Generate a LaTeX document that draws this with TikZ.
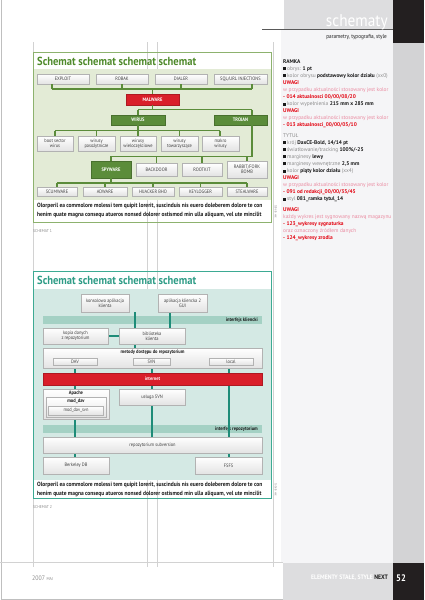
\documentclass[tikz,border=0pt]{standalone}
\usepackage{fontspec}
\setmainfont[FakeStretch=0.9]{PT Sans}
\newfontfamily\colfont{PT Sans}
\usetikzlibrary{calc}
\definecolor{gdark}{HTML}{5B8C3A}
\definecolor{gpanel}{HTML}{E3EBD6}
\definecolor{gframe}{HTML}{8DB26E}
\definecolor{gtitle}{HTML}{4F8A2B}
\definecolor{mred}{HTML}{D91F2A}
\definecolor{tframe}{HTML}{3DAA93}
\definecolor{tpanel}{HTML}{D4E9E4}
\definecolor{tbar}{HTML}{A4D1C4}
\definecolor{tline}{HTML}{1E8C78}
\definecolor{ttitle}{HTML}{2E9C86}
\definecolor{colbg}{HTML}{F5F5F7}
\definecolor{hdrgray}{HTML}{DDDDDF}
\definecolor{strip}{HTML}{D3D3D5}
\definecolor{blk}{HTML}{231F20}
\definecolor{rtxt}{HTML}{8C8C8C}
\definecolor{dk}{HTML}{1A1A1A}
\definecolor{rd}{HTML}{E30613}
\definecolor{pk}{HTML}{EA8AA0}
\newcommand\nbox[7]{\node[#6, minimum width={(#4-#2)*1pt}, minimum height={(#5-#3)*1pt}] (#1) at ({(#2+#4)/2},{(#3+#5)/2}) {#7};}
\newcommand\sqb{{\color{dk}\rule{3pt}{3pt}}\hspace{1pt}}
\newcommand\bd[1]{{\bfseries\color{dk}#1}}
\newcommand\uw{{\bfseries\color{rd}UWAGI}}
\newcommand\pkt[1]{{\color{pk}#1}}
\newcommand\rdt[1]{{\bfseries\color{rd}#1}}
\tikzset{
  gbox/.style={draw=gray!60, line width=0.4pt, top color=white, bottom color=gray!22, inner sep=0pt, align=center, text=black!75, font=\fontsize{4.9}{5.3}\selectfont},
  greenbox/.style={draw=gdark!80!black, line width=0.4pt, fill=gdark, inner sep=0pt, align=center, text=white, font=\bfseries\fontsize{5}{5.5}\selectfont},
  redbox/.style={draw=mred!80!black, line width=0.4pt, fill=mred, inner sep=0pt, align=center, text=white, font=\bfseries\fontsize{5}{5.5}\selectfont},
  tbarbox/.style={fill=tbar, inner sep=0pt},
  conn/.style={draw=gdark, line width=1.3pt},
  tconn/.style={draw=tline, line width=1.1pt},
  guide/.style={draw=gray!35, line width=0.4pt},
  captxt/.style={anchor=west, inner sep=0pt, text=dk, font=\bfseries\fontsize{6.1}{6.5}\selectfont},
  schlabel/.style={anchor=west, inner sep=0pt, text=rtxt, font=\fontsize{4.2}{4.5}\selectfont},
  sidelabel/.style={rotate=-90, inner sep=0pt, text=rtxt, font=\fontsize{3.2}{3.2}\selectfont},
  titletxt/.style={anchor=base west, inner sep=0pt, font=\bfseries\fontsize{11.7}{12}\selectfont},
  bartxt/.style={anchor=east, inner sep=0pt, text=dk, font=\bfseries\fontsize{5}{5.5}\selectfont},
  intxt/.style={anchor=center, inner sep=0pt, text=dk, font=\bfseries\fontsize{5}{5.5}\selectfont}
}
\begin{document}
\begin{tikzpicture}[x=1pt,y=-1pt]
\useasboundingbox (0,0) rectangle (424,600);
\fill[white] (0,0) rectangle (424,600);
% right column
\fill[colbg] (281,29) rectangle (393,563);
\fill[hdrgray] (284,0) rectangle (393,29);
\fill[blk] (393,0) rectangle (424,43);
\fill[strip] (393,43) rectangle (424,563);
\fill[hdrgray] (283,563) rectangle (393,600);
\fill[blk] (393,563) rectangle (424,600);
\draw[gray!70!black, line width=0.5pt] (262,29.5) -- (393,29.5);
\node[anchor=base east, inner sep=0pt, text=white, font=\fontsize{17}{17}\selectfont] (hdr) at (388,26) {schematy};
\node[anchor=base east, inner sep=0pt, text=dk, font=\fontsize{5.8}{6}\selectfont] (sub) at (387,38.5) {parametry, typografia, style};
\node[anchor=base west, inner sep=0pt, text=white, font=\bfseries\fontsize{9.5}{9.5}\selectfont] (pg) at (396,581) {52};
\node[anchor=base east, inner sep=0pt, font=\bfseries\fontsize{6.4}{6.5}\selectfont] (foot) at (388,579.5) {\color{white}ELEMENTY STAŁE, STYLE\ \color{dk}NEXT};
\node[anchor=base west, inner sep=0pt, text=rtxt, font=\fontsize{6.5}{6.5}\selectfont] (year) at (32,580) {2007 {\fontsize{4.3}{4.3}\selectfont MAJ}};
% page border and guides
\draw[gray!50, line width=0.6pt] (1,0) -- (1,599) -- (283,599);
\foreach \gx in {33,147,157,273} {\draw[guide] (\gx,42) -- (\gx,567);}
\draw[guide] (0,562) -- (283,562);

% ================= SCHEMAT 1 =================
\fill[gpanel] (33,69) rectangle (271,200);
\draw[gframe, line width=0.8pt] (33,52) rectangle (271,222);
\node[titletxt, text=gtitle] (t1) at (37,65.5) {Schemat schemat schemat schemat};
\nbox{exploit}{37}{74}{89}{84}{gbox}{EXPLOIT}
\nbox{robak}{96}{74}{148}{84}{gbox}{ROBAK}
\nbox{dialer}{155}{74}{207}{84}{gbox}{DIALER}
\nbox{sql}{214}{74}{267}{84}{gbox}{SQL/URL INJECTIONS}
\nbox{malware}{126}{94}{179}{105}{redbox}{MALWARE}
\nbox{wirus}{111}{115}{165}{125}{greenbox}{WIRUS}
\nbox{trojan}{214}{115}{267}{125}{greenbox}{TROJAN}
\nbox{boot}{37}{136}{73}{151}{gbox}{boot sector\\wirus}
\nbox{paso}{78}{136}{115}{151}{gbox}{wirusy\\pasożytnicze}
\nbox{wielo}{120}{136}{156}{151}{gbox}{wirusy\\wieloczęściowe}
\nbox{towa}{161}{136}{198}{151}{gbox}{wirusy\\towarzyszące}
\nbox{makro}{202}{136}{239}{151}{gbox}{makro\\wirusy}
\nbox{spyware}{91}{161}{131}{178}{greenbox}{SPYWARE}
\nbox{backdoor}{136}{163}{177}{176}{gbox}{BACKDOOR}
\nbox{rootkit}{182}{163}{222}{176}{gbox}{ROOTKIT}
\nbox{rabbit}{227}{161}{267}{178}{gbox}{RABBIT/FORK\\BOMB}
\nbox{scum}{37}{187}{77}{196}{gbox}{SCUMWARE}
\nbox{adware}{83}{187}{127}{196}{gbox}{ADWARE}
\nbox{hijack}{132}{187}{174}{196}{gbox}{HIJACKER BHO}
\nbox{keylog}{179}{187}{222}{196}{gbox}{KEYLOGGER}
\nbox{steal}{227}{187}{267}{196}{gbox}{STEALWARE}
% connectors schema 1
\coordinate (b1L) at (52,89); \coordinate (b1R) at (252,89);
\draw[conn] (b1L) -- (b1R);
\draw[conn] (exploit.south -| b1L) -- (b1L);
\draw[conn] (robak.south) -- (robak.south |- b1L);
\draw[conn] (dialer.south) -- (dialer.south |- b1L);
\draw[conn] (sql.south -| b1R) -- (b1R);
\draw[conn] (malware.north) -- (malware.north |- b1L);
\coordinate (b2L) at (138,109.5); \coordinate (b2R) at (252,109.5);
\draw[conn] (malware.south) -- (malware.south |- b2L);
\draw[conn] (b2L) -- (b2R);
\draw[conn] (b2L) -- (wirus.north -| b2L);
\draw[conn] (b2R) -- (trojan.north -| b2R);
\coordinate (b3L) at (55,130.5); \coordinate (b3R) at (220,130.5);
\draw[conn] (wirus.south) -- (wirus.south |- b3L);
\draw[conn] (b3L) -- (b3R);
\draw[conn] (b3L) -- (boot.north -| b3L);
\draw[conn] (paso.north) -- (paso.north |- b3L);
\draw[conn] (wielo.north) -- (wielo.north |- b3L);
\draw[conn] (towa.north) -- (towa.north |- b3L);
\draw[conn] (b3R) -- (makro.north -| b3R);
\coordinate (b4L) at (111,156.5); \coordinate (b4R) at (252,156.5);
\draw[conn] (trojan.south -| b4R) -- (b4R) -- (b4L) -- (spyware.north);
\draw[conn] (backdoor.north) -- (backdoor.north |- b4L);
\draw[conn] (rootkit.north) -- (rootkit.north |- b4L);
\draw[conn] (rabbit.north) -- (rabbit.north |- b4L);
\coordinate (b5L) at (57,183); \coordinate (b5R) at (247,183);
\draw[conn] (spyware.south) -- (spyware.south |- b5L);
\draw[conn] (b5L) -- (b5R);
\draw[conn] (b5L) -- (scum.north);
\draw[conn] (adware.north) -- (adware.north |- b5L);
\draw[conn] (hijack.north) -- (hijack.north |- b5L);
\draw[conn] (keylog.north) -- (keylog.north |- b5L);
\draw[conn] (b5R) -- (steal.north);
\node[captxt] (c1a) at (37,206) {Olorperil ea commolore molessi tem quipit lorerit, suscinduis nis euero doleberem dolore te con};
\node[captxt] (c1b) at (37,215) {henim quate magna consequ atueros nonsed dolorer ostismod min ulla aliquam, vel ute mincilit};
\node[schlabel] (s1) at (33,231) {SCHEMAT 1};
\node[sidelabel] (side1) at (276,212) {tabela xxx};

% ================= SCHEMAT 2 =================
\fill[tpanel] (33,289) rectangle (271,480);
\draw[tframe, line width=0.9pt] (33,271) rectangle (271,498);
\node[titletxt, text=ttitle] (t2) at (37,284.5) {Schemat schemat schemat schemat};
\nbox{ibar}{43}{316}{262}{324}{tbarbox}{}
\node[bartxt] (ibart) at (258,320) {interfejs kliencki};
\nbox{rbar}{43}{425}{262}{433}{tbarbox}{}
\node[bartxt] (rbart) at (258,429) {interfejs repozytorium};
% teal connectors
\draw[tconn] (135,312) -- (135,348);
\draw[tconn] (170,312) -- (170,328);
\draw[tconn] (108,336) -- (119,336);
\draw[tconn] (75,365) -- (75,457);
\draw[tconn] (152,365) -- (152,437);
\draw[tconn] (229,365) -- (229,457);
\nbox{internet}{43}{373}{262}{385}{redbox}{internet}
\nbox{kons}{81}{294}{129}{312}{gbox}{konsolowa aplikacja\\klienta}
\nbox{gui}{158}{294}{207}{312}{gbox}{aplikacja kliencka 2\\GUI}
\nbox{kopia}{43}{328}{108}{344}{gbox}{kopia danych\\z repozytorium}
\nbox{bib}{119}{328}{185}{344}{gbox}{biblioteka\\klienta}
\nbox{metody}{43}{348}{262}{368}{gbox}{}
\node[intxt] (metodyt) at (152.5,352.5) {metody dostępu do repozytorium};
\nbox{dav}{53}{358}{97}{365}{gbox}{DAV}
\nbox{svn}{133}{358}{170}{365}{gbox}{SVN}
\nbox{local}{209}{358}{253}{365}{gbox}{local}
\nbox{apache}{43}{389}{109}{419}{gbox}{}
\node[intxt] (apachet) at (76,393) {Apache};
\nbox{moddav}{46}{397.5}{106}{417}{gbox}{}
\node[intxt] (moddavt) at (76,401.5) {mod\_dav};
\nbox{moddavsvn}{48.5}{406}{103.5}{415}{gbox}{mod\_dav\_svn}
\nbox{usluga}{119}{389}{185}{405}{gbox}{usługa SVN}
\nbox{repo}{43}{437}{262}{453}{gbox}{repozytorium subversion}
\nbox{berkeley}{43}{457}{109}{474}{gbox}{Berkeley DB}
\nbox{fsfs}{195}{457}{262}{474}{gbox}{FSFS}
\node[captxt] (c2a) at (37,485) {Olorperil ea commolore molessi tem quipit lorerit, suscinduis nis euero doleberem dolore te con};
\node[captxt] (c2b) at (37,493.5) {henim quate magna consequ atueros nonsed dolorer ostismod min ulla aliquam, vel ute mincilit};
\node[schlabel] (s2) at (33,507) {SCHEMAT 2};
\node[sidelabel] (side2) at (276,490) {tabela xxx};

% ================= right column text =================
\node[anchor=north west, inner sep=0pt, align=left, text=rtxt, font=\colfont\fontsize{5.4}{7.1}\selectfont] (col) at (283,59) {%
\bd{RAMKA}\\
\sqb obrys: \bd{1 pt}\\
\sqb kolor obrysu \bd{podstawowy kolor działu} (xx0)\\
\uw\\
\pkt{w przypadku aktualności stosowany jest kolor}\\
\rdt{- 014 aktualnosci 00/00/08/20}\\
\sqb kolor wypełnienia \bd{215 mm x 285 mm}\\
\uw\\
\pkt{w przypadku aktualności stosowany jest kolor}\\
\rdt{- 013 aktualnosci\_00/00/05/10}\\[3pt]
TYTUŁ\\
\sqb krój \bd{DaxCE-Bold, 14/14 pt}\\
\sqb światłowanie/tracking \bd{100\%/-25}\\
\sqb marginesy \bd{lewy}\\
\sqb marginesy wewnętrzne \bd{2,5 mm}\\
\sqb kolor \bd{piąty kolor działu} (xx4)\\
\uw\\
\pkt{w przypadku aktualności stosowany jest kolor}\\
\rdt{- 091 od redakcji\_00/00/35/45}\\
\sqb styl \bd{081\_ramka tytul\_14}\\[3pt]
\uw\\
\pkt{każdy wykres jest sygnowany nazwą magazynu}\\
\rdt{- 123\_wykresy sygnaturka}\\
\pkt{oraz oznaczony źródłem danych}\\
\rdt{- 124\_wykresy zrodla}};
\end{tikzpicture}
\end{document}
